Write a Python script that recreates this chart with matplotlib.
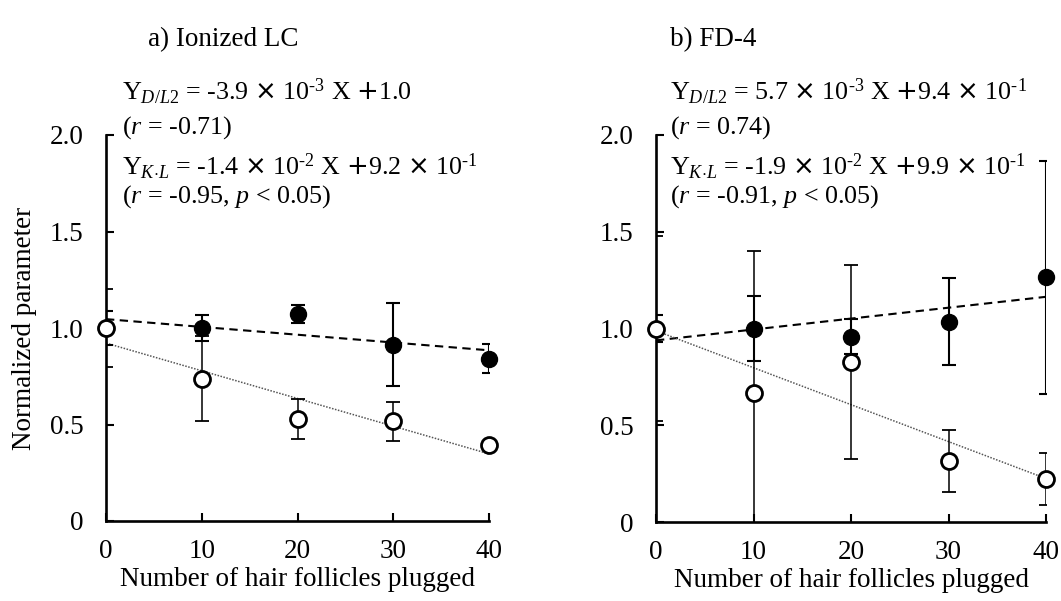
import numpy as np
import matplotlib
matplotlib.use("Agg")
import matplotlib.pyplot as plt

plt.rcParams['font.family'] = ['Liberation Serif', 'DejaVu Serif']
plt.rcParams['mathtext.fontset'] = 'custom'
plt.rcParams['mathtext.rm'] = 'Liberation Serif'
plt.rcParams['mathtext.it'] = 'Liberation Serif:italic'
plt.rcParams['mathtext.sf'] = 'DejaVu Sans'
plt.rcParams['font.size'] = 19.5

# Number of plugged hair follicles
x_plugged = [0, 10, 20, 30, 40]

# a) Ionized LC
lc_dl2 = [1.0, 1.0, 1.071, 0.914, 0.841]
lc_dl2_err = [0.09, 0.067, 0.046, 0.215, 0.075]
lc_kl = [1.0, 0.736, 0.529, 0.517, 0.392]
lc_kl_err = [0.2, 0.22, 0.105, 0.1, 0.0]

# b) FD-4
fd_dl2 = [1.0, 1.0, 0.957, 1.035, 1.264]
fd_dl2_err = [0.07, 0.167, 0.09, 0.225, 0.6]
fd_kl = [1.0, 0.668, 0.827, 0.315, 0.222]
fd_kl_err = [0.48, 0.735, 0.5, 0.162, 0.133]

panel_titles = ["a) Ionized LC", "b) FD-4"]

HY = "\u2010"   # text hyphen for exponents
TIMES = r"$\mathsf{\times}$"
PLUS = r"$\mathsf{+}$"

def sup(s):
    return r"$^{\mathrm{" + s + "}}$"

eq_lines = [
    [r"Y$_{\mathit{D/L2}}$ = -3.9 " + TIMES + " 10" + sup(HY + "3") + " X " + PLUS + "1.0",
     r"($\mathit{r}$ = -0.71)",
     r"Y$_{\mathit{K{\cdot}L}}$ = -1.4 " + TIMES + " 10" + sup(HY + "2") + " X " + PLUS
     + "9.2 " + TIMES + " 10" + sup(HY + "1"),
     r"($\mathit{r}$ = -0.95, $\mathit{p}$ < 0.05)"],
    [r"Y$_{\mathit{D/L2}}$ = 5.7 " + TIMES + " 10" + sup(HY + "3") + " X " + PLUS
     + "9.4 " + TIMES + " 10" + sup(HY + "1"),
     r"($\mathit{r}$ = 0.74)",
     r"Y$_{\mathit{K{\cdot}L}}$ = -1.9 " + TIMES + " 10" + sup(HY + "2") + " X " + PLUS
     + "9.9 " + TIMES + " 10" + sup(HY + "1"),
     r"($\mathit{r}$ = -0.91, $\mathit{p}$ < 0.05)"],
]
y_ticks = [0, 0.5, 1.0, 1.5, 2.0]
y_ticklabels = ["0", "0.5", "1.0", "1.5", "2.0"]
x_ticks = [0, 10, 20, 30, 40]

W, H = 1061, 601
fig = plt.figure(figsize=(W / 100, H / 100), dpi=100)

def px_axes(x0, x1, y0, y1):
    return fig.add_axes([x0 / W, 1 - y0 / H, (x1 - x0) / W, (y0 - y1) / H])

ax_a = px_axes(106, 489, 521, 135)
ax_b = px_axes(656, 1046, 522, 135)

datasets = [
    (ax_a, lc_dl2, lc_dl2_err, lc_kl, lc_kl_err),
    (ax_b, fd_dl2, fd_dl2_err, fd_kl, fd_kl_err),
]

x = np.array(x_plugged, dtype=float)
xfit = np.array([0.0, 40.0])

for ax, dl2, dl2_err, kl, kl_err in datasets:
    # regression lines
    s1, b1 = np.polyfit(x, dl2, 1)
    s2, b2 = np.polyfit(x, kl, 1)
    ax.plot(xfit, s1 * xfit + b1, color='black', lw=1.5,
            linestyle=(0, (4, 2.6)), zorder=2)
    ax.plot(xfit, s2 * xfit + b2, color='#555555', lw=1.1,
            linestyle=(0, (1, 1)), zorder=2)

    # error bars (clipped to the plotting area)
    ax.errorbar(x, dl2, yerr=dl2_err, fmt='none', ecolor='black',
                elinewidth=1.5, capsize=5, capthick=1.5, zorder=3)
    ax.errorbar(x, kl, yerr=kl_err, fmt='none', ecolor='black',
                elinewidth=1.1, capsize=5, capthick=1.3, zorder=3)

    # D/L2: filled circles, K·L: open circles
    ax.plot(x, dl2, 'o', ms=11.5, mfc='black', mec='black', zorder=4,
            clip_on=False)
    ax.plot(x, kl, 'o', ms=11.5, mfc='white', mec='black', mew=2.0,
            zorder=5, clip_on=False)

    ax.set_xlim(0, 40)
    ax.set_ylim(0, 2.0)
    ax.set_xticks(x_ticks)
    ax.set_yticks(y_ticks)
    ax.set_yticklabels(y_ticklabels)
    for side in ('top', 'right'):
        ax.spines[side].set_visible(False)
    for side in ('left', 'bottom'):
        ax.spines[side].set_linewidth(1.9)
    ax.tick_params(axis='both', direction='in', length=6, width=1.5)
    ax.tick_params(axis='y', pad=16)
    ax.tick_params(axis='x', pad=13)
    ax.set_xlabel("Number of hair follicles plugged", labelpad=2)

ax_a.set_ylabel("Normalized parameter", labelpad=9)

# panel titles
fig.text(148 / W, 1 - 40 / H, panel_titles[0], ha='left', va='center')
fig.text(670 / W, 1 - 40 / H, panel_titles[1], ha='left', va='center')

# regression equations
baselines = [100, 134, 175, 203]
for x0, lines in zip([122, 670], eq_lines):
    for yb, txt in zip(baselines, lines):
        fig.text(x0 / W, 1 - yb / H, txt, ha='left', va='baseline',
                 fontsize=18.7)

fig.savefig("out.png", dpi=100)
